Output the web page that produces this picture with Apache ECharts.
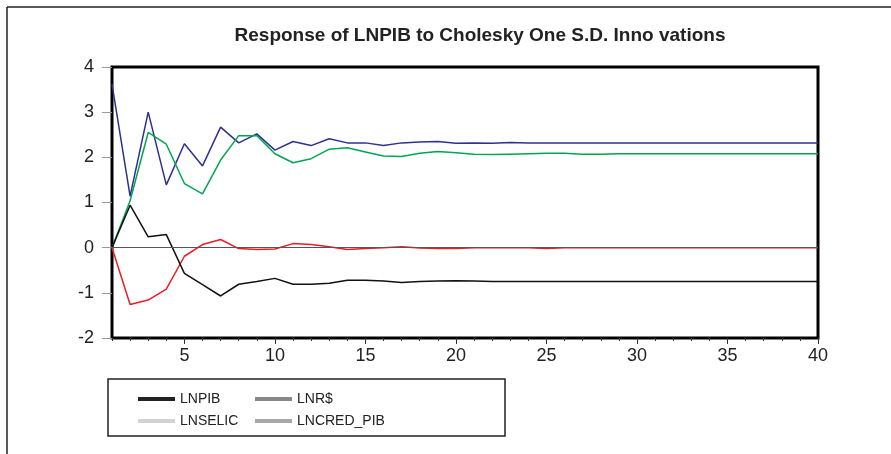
<!DOCTYPE html>
<html>
<head>
<meta charset="utf-8">
<script src="https://cdn.jsdelivr.net/npm/echarts@6/dist/echarts.min.js"></script>
<style>html,body{margin:0;padding:0;background:#fff;}#c{width:891px;height:454px;}</style>
</head>
<body>
<div id="c"></div>
<script>
const periods = Array.from({length: 40}, (_, i) => String(i + 1));
const yTicks = [-2, -1, 0, 1, 2, 3, 4];
const lnpib = [3.62,1.14,3.00,1.39,2.30,1.81,2.67,2.32,2.52,2.16,2.35,2.26,2.41,2.32,2.32,2.26,2.32,2.34,2.35,2.31,2.32,2.31,2.33,2.32,2.32,2.32,2.32,2.32,2.32,2.32,2.32,2.32,2.32,2.32,2.32,2.32,2.32,2.32,2.32,2.32];
const lnr = [0,-1.26,-1.16,-0.92,-0.19,0.07,0.18,-0.02,-0.04,-0.03,0.09,0.07,0.02,-0.04,-0.02,0.00,0.02,-0.01,-0.02,-0.02,0.00,0.00,0.00,0.00,-0.02,0.00,0.00,0.00,0.00,0.00,0.00,0.00,0.00,0.00,0.00,0.00,0.00,0.00,0.00,0.00];
const lnselic = [0,1.04,2.55,2.29,1.42,1.19,1.94,2.48,2.48,2.08,1.88,1.97,2.18,2.21,2.12,2.03,2.02,2.09,2.13,2.10,2.07,2.06,2.07,2.08,2.09,2.09,2.07,2.07,2.08,2.08,2.08,2.08,2.08,2.08,2.08,2.08,2.08,2.08,2.08,2.08];
const lncred = [0,0.94,0.24,0.29,-0.57,-0.82,-1.07,-0.81,-0.75,-0.68,-0.81,-0.81,-0.79,-0.72,-0.72,-0.74,-0.77,-0.75,-0.74,-0.73,-0.74,-0.75,-0.75,-0.75,-0.75,-0.75,-0.75,-0.75,-0.75,-0.75,-0.75,-0.75,-0.75,-0.75,-0.75,-0.75,-0.75,-0.75,-0.75,-0.75];
const names = ['LNPIB', 'LNR$', 'LNSELIC', 'LNCRED_PIB'];

const chart = echarts.init(document.getElementById('c'), null, {renderer: 'canvas'});
const font = 'Liberation Sans, Arial, sans-serif';
function mk(name, data, color, extra) {
  return Object.assign({
    name: name, type: 'line', data: data, symbol: 'none', xAxisIndex: 0,
    lineStyle: {color: color, width: 1.5}, itemStyle: {color: color}, animation: false, z: 3
  }, extra || {});
}
chart.setOption({
  animation: false,
  backgroundColor: '#fff',
  title: {
    text: 'Response of LNPIB to Cholesky One S.D. Inno vations',
    left: 480, top: 26, textAlign: 'center', padding: 0,
    textStyle: {fontFamily: font, fontSize: 19, fontWeight: 'bold', color: '#222'}
  },
  grid: {left: 112, right: 73, top: 67, bottom: 116, show: true, borderColor: '#000', borderWidth: 3, backgroundColor: 'transparent'},
  xAxis: [
    {type: 'category', data: periods, boundaryGap: false, position: 'bottom',
     axisLine: {show: false, onZero: false}, splitLine: {show: false},
     axisTick: {show: true, interval: 0, length: 3, lineStyle: {color: '#333'}},
     axisLabel: {show: false}},
    {type: 'category', data: periods, boundaryGap: false, position: 'bottom',
     axisLine: {show: false, onZero: false}, splitLine: {show: false},
     axisTick: {show: true, length: 6, interval: function (i) { return (i + 1) % 5 === 0; }, lineStyle: {color: '#333'}},
     axisLabel: {show: true, interval: function (i) { return (i + 1) % 5 === 0; }, margin: 9,
       fontFamily: font, fontSize: 18, color: '#222'}}
  ],
  yAxis: {
    type: 'value', min: yTicks[0], max: yTicks[yTicks.length - 1], interval: 1,
    axisLine: {show: false}, splitLine: {show: false},
    axisTick: {show: true, length: 10, lineStyle: {color: '#999'}},
    axisLabel: {margin: 18, fontFamily: font, fontSize: 18, color: '#222'}
  },
  legend: [
    {orient: 'vertical', left: 138, top: 392, padding: 0, itemWidth: 37, itemHeight: 4, itemGap: 8,
     textStyle: {fontFamily: font, fontSize: 14, color: '#222'},
     selectedMode: false, data: [
       {name: 'LNPIB', icon: 'rect', itemStyle: {color: '#222'}},
       {name: 'LNSELIC', icon: 'rect', itemStyle: {color: '#d2d2d2'}}]},
    {orient: 'vertical', left: 255, top: 392, padding: 0, itemWidth: 37, itemHeight: 4, itemGap: 8,
     textStyle: {fontFamily: font, fontSize: 14, color: '#222'},
     selectedMode: false, data: [
       {name: 'LNR$', icon: 'rect', itemStyle: {color: '#888'}},
       {name: 'LNCRED_PIB', icon: 'rect', itemStyle: {color: '#a8a8a8'}}]}
  ],
  graphic: [
    {type: 'line', shape: {x1: 7, y1: 7, x2: 891, y2: 7}, style: {stroke: '#222', lineWidth: 1.5}},
    {type: 'line', shape: {x1: 7, y1: 7, x2: 7, y2: 454}, style: {stroke: '#222', lineWidth: 1.5}},
    {type: 'rect', shape: {x: 108, y: 379, width: 397, height: 57}, style: {fill: 'none', stroke: '#222', lineWidth: 1.5}}
  ],
  series: [
    mk(names[0], lnpib, '#2e3192', {markLine: {silent: true, symbol: 'none', label: {show: false},
      lineStyle: {color: '#555', width: 1, type: 'solid'}, data: [{yAxis: 0}], animation: false}}),
    mk(names[1], lnr, '#ed1c24'),
    mk(names[2], lnselic, '#00a651'),
    mk(names[3], lncred, '#111')
  ]
});
</script>
</body>
</html>
